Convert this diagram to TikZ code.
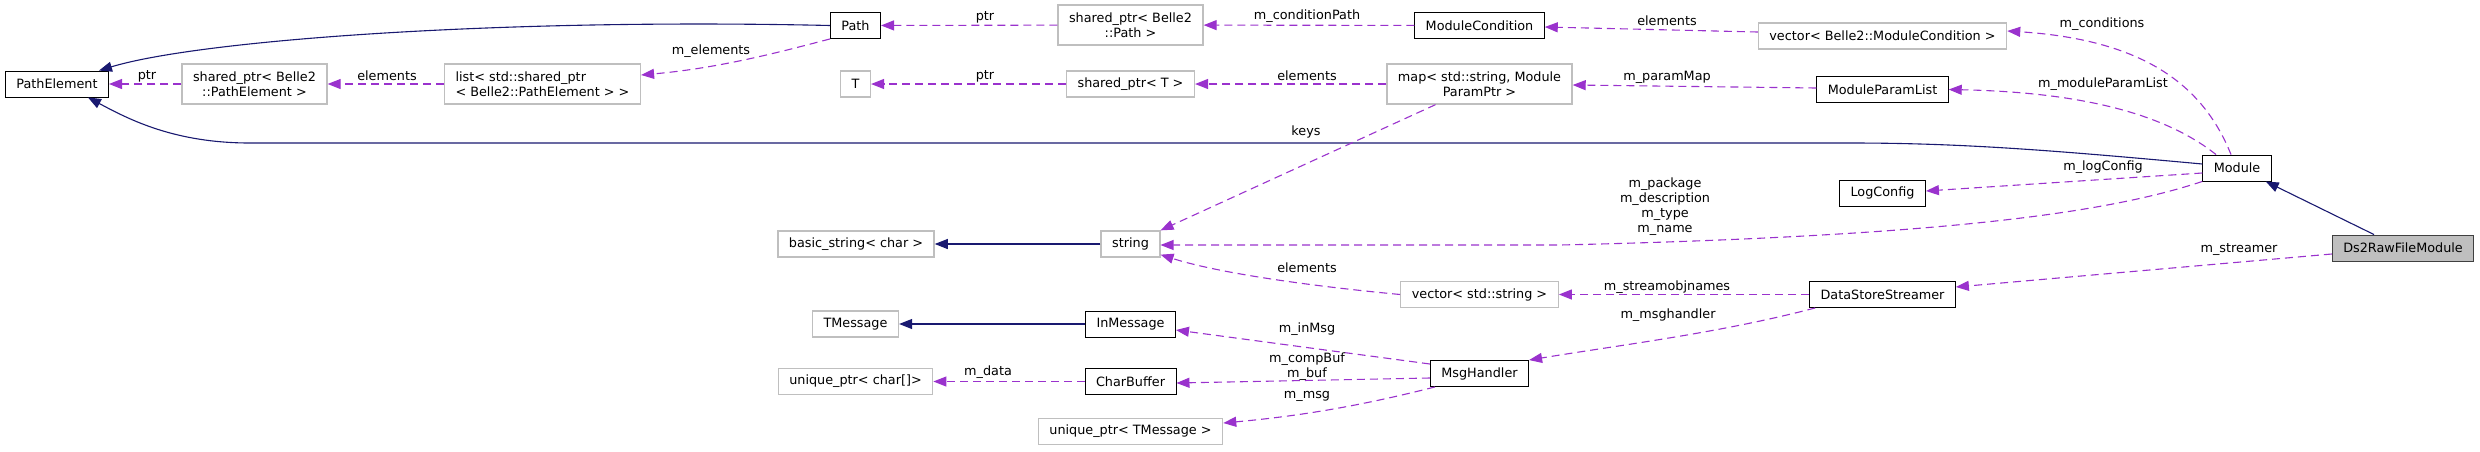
\documentclass[tikz,border=0pt]{standalone}
\usepackage{fontspec}
\setmainfont{DejaVu Sans}
\usetikzlibrary{arrows.meta}
\definecolor{midnight}{RGB}{25,25,112}
\definecolor{orchid}{RGB}{154,50,205}
\definecolor{grey75}{RGB}{191,191,191}

\begin{document}
\begin{tikzpicture}[x=1pt,y=-1pt,
				txt/.style={font=\fontsize{12.8}{15}\selectfont},
				cls/.style={txt,draw=black,line width=0.9pt,fill=white,rectangle,inner xsep=11pt,inner ysep=2pt,minimum height=26pt},
				ext/.style={cls,draw=grey75,line width=1.3pt},
				focus/.style={cls,fill=grey75,draw=black!75},
				twoline/.style={minimum height=40pt,align=center},
				lbl/.style={txt,inner sep=0pt},
				inh/.style={draw=midnight,line width=1.1pt,-{Triangle[length=13pt,width=10pt]}},
				use/.style={draw=orchid,line width=1.1pt,dash pattern=on 8pt off 5pt,-{Triangle[length=13pt,width=10pt]}}]
				\useasboundingbox (0,0) rectangle (2480,451);

				\node[cls]           (pathelem)   at (57,84)      {PathElement};
				\node[ext,twoline]   (sharedpe)   at (254.5,84)   {shared\_ptr< Belle2\\::PathElement >};
				\node[ext,twoline,align=left] (listpe) at (542.5,84) {list< std::shared\_ptr\\< Belle2::PathElement > >};
				\node[cls]           (path)       at (855.5,25.5) {Path};
				\node[ext]           (tnode)      at (855.5,84)   {T};
				\node[ext]           (basicstr)   at (856,244)    {basic\_string< char >};
				\node[ext]           (tmsg)       at (855.5,324)  {TMessage};
				\node[ext]           (uptrchar)   at (855.5,381.5) {unique\_ptr< char[]>};
				\node[ext,twoline]   (sharedpath) at (1130.5,25)  {shared\_ptr< Belle2\\::Path >};
				\node[ext]           (sharedt)    at (1130.5,84)  {shared\_ptr< T >};
				\node[ext]           (str)        at (1130.5,244) {string};
				\node[cls]           (inmsg)      at (1130.5,324) {InMessage};
				\node[cls]           (charbuf)    at (1130.5,381.5) {CharBuffer};
				\node[ext]           (uptrtmsg)   at (1130.5,431.5) {unique\_ptr< TMessage >};
				\node[cls]           (modcond)    at (1479.5,25.5) {ModuleCondition};
				\node[ext,twoline]   (pmap)       at (1479.5,84)  {map< std::string, Module\\ParamPtr >};
				\node[ext]           (vecstr)     at (1479.5,294.5) {vector< std::string >};
				\node[cls]           (msghandler) at (1479.5,373.5) {MsgHandler};
				\node[ext]           (vecmodcond) at (1882.5,36)  {vector< Belle2::ModuleCondition >};
				\node[cls]           (paramlist)  at (1882.5,89.5) {ModuleParamList};
				\node[cls]           (logcfg)     at (1882.5,193) {LogConfig};
				\node[cls]           (streamer)   at (1882.5,294.5) {DataStoreStreamer};
				\node[cls]           (module)     at (2237,168)   {Module};
				\node[focus]         (ds2raw)     at (2403,248)   {Ds2RawFileModule};

				% inheritance
				\draw[inh] ([xshift=-29pt]ds2raw.north) -- ([xshift=-6pt]module.south east);
				\draw[inh] (path.west) .. controls (500,18) and (200,40) .. ([xshift=-10pt]pathelem.north east);
				\draw[inh] ([yshift=4pt]module.west) .. controls (2050,150) and (1960,143) .. (1850,143) -- (250,143)
					.. controls (175,143) and (130,120) .. ([xshift=-21pt]pathelem.south east);
				\draw[inh] (str) -- (basicstr);
				\draw[inh] (inmsg) -- (tmsg);

				% members
				\draw[use] (sharedpe) -- (pathelem);
				\draw[use] (listpe) -- (sharedpe);
				\draw[use] (path.south west) .. controls (780,52) and (720,68) .. ([yshift=9pt]listpe.east);
				\draw[use] (sharedpath) -- (path);
				\draw[use] (modcond) -- (sharedpath);
				\draw[use] ([yshift=4pt]vecmodcond.west) -- ([yshift=-1.5pt]modcond.east);
				\draw[use] ([xshift=-6pt]module.north) .. controls (2205,90) and (2150,40) .. ([yshift=5pt]vecmodcond.east);
				\draw[use] ([xshift=-21pt]module.north) .. controls (2160,110) and (2070,92) .. (paramlist.east);
				\draw[use] ([yshift=1.5pt]paramlist.west) -- ([yshift=-1pt]pmap.east);
				\draw[use] (pmap) -- (sharedt);
				\draw[use] (sharedt) -- (tnode);
				\draw[use] ([xshift=-44pt]pmap.south) -- (str.north east);
				\draw[use] ([yshift=-5pt]module.west) -- ([yshift=2pt]logcfg.east);
				\draw[use] (module.south west) .. controls (2110,212) and (1950,236) .. (1560,245) -- ([yshift=-1pt]str.east);
				\draw[use] ([yshift=-6pt]ds2raw.west) -- ([yshift=7.5pt]streamer.east);
				\draw[use] (streamer) -- (vecstr);
				\draw[use] (vecstr.west) .. controls (1300,285) and (1215,272) .. ([yshift=3pt]str.south east);
				\draw[use] ([xshift=6pt]streamer.south west) .. controls (1720,333) and (1620,345) .. (msghandler.north east);
				\draw[use] ([yshift=9.5pt]msghandler.west) -- ([yshift=-6pt]inmsg.east);
				\draw[use] ([yshift=-4.5pt]msghandler.west) -- ([yshift=-1.5pt]charbuf.east);
				\draw[use] ([xshift=5pt]msghandler.south west) .. controls (1360,406) and (1300,416) .. ([yshift=8.5pt]uptrtmsg.east);
				\draw[use] (charbuf) -- (uptrchar);

				% labels
				\node[lbl] (lptrpe)     at (147,76)   {ptr};
				\node[lbl] (lelempe)    at (387,76)   {elements};
				\node[lbl] (lmelem)     at (711,51)   {m\_elements};
				\node[lbl] (lptrpath)   at (985,17)   {ptr};
				\node[lbl] (lcondpath)  at (1307,16)  {m\_conditionPath};
				\node[lbl] (lelemcond)  at (1667,21)  {elements};
				\node[lbl] (lconds)     at (2102,24)  {m\_conditions};
				\node[lbl] (lparamlist) at (2103,84)  {m\_moduleParamList};
				\node[lbl] (lparammap)  at (1667,77)  {m\_paramMap};
				\node[lbl] (lelemmap)   at (1307,76)  {elements};
				\node[lbl] (lptrt)      at (985,76)   {ptr};
				\node[lbl] (lkeys)      at (1306,132) {keys};
				\node[lbl] (llog)       at (2103,167) {m\_logConfig};
				\node[lbl,align=center] (lstrs) at (1665,206.5) {m\_package\\m\_description\\m\_type\\m\_name};
				\node[lbl] (lstreamer)  at (2239,250) {m\_streamer};
				\node[lbl] (lobjnames)  at (1667,287) {m\_streamobjnames};
				\node[lbl] (lelemstr)   at (1307,268) {elements};
				\node[lbl] (lmsgh)      at (1668,315) {m\_msghandler};
				\node[lbl] (linmsg)     at (1307,329) {m\_inMsg};
				\node[lbl,align=center] (lbuf) at (1307,366.5) {m\_compBuf\\m\_buf};
				\node[lbl] (lmsg)       at (1307,396) {m\_msg};
				\node[lbl] (ldata)      at (988,372)  {m\_data};
			\end{tikzpicture}
\end{document}
